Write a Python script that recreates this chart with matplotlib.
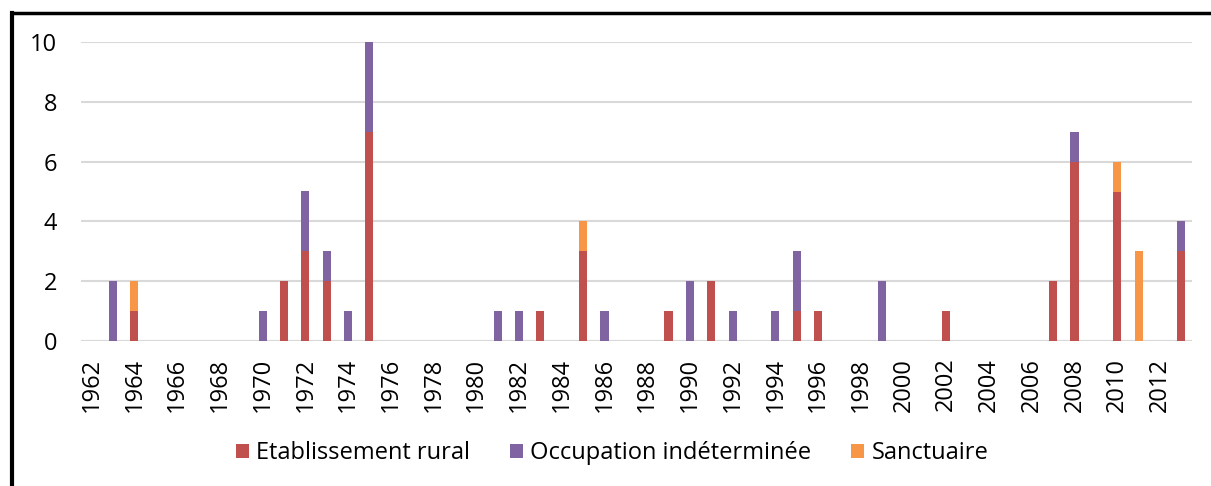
import numpy as np
import matplotlib.pyplot as plt
from matplotlib.lines import Line2D

years = list(range(1962, 2014))
rural = {1964: 1, 1971: 2, 1972: 3, 1973: 2, 1975: 7, 1983: 1, 1985: 3, 1989: 1,
         1991: 2, 1995: 1, 1996: 1, 2002: 1, 2007: 2, 2008: 6, 2010: 5, 2013: 3}
indet = {1963: 2, 1970: 1, 1972: 2, 1973: 1, 1974: 1, 1975: 3, 1981: 1, 1982: 1,
         1986: 1, 1990: 2, 1992: 1, 1994: 1, 1995: 2, 1999: 2, 2008: 1, 2013: 1}
sanct = {1964: 1, 1985: 1, 2010: 1, 2011: 3}

e = np.array([rural.get(y, 0) for y in years])
o = np.array([indet.get(y, 0) for y in years])
s = np.array([sanct.get(y, 0) for y in years])

plt.rcParams['font.family'] = ['Open Sans', 'DejaVu Sans']
fs = 17

fig = plt.figure(figsize=(12.11, 4.86), dpi=100)
ax = fig.add_axes([81/1211, 1-341/486, (1192-81)/1211, 299/486])
x = np.arange(len(years))
w = 0.38
ax.bar(x, e, w, color='#C0504D', label='Etablissement rural', zorder=3)
ax.bar(x, o, w, bottom=e, color='#8064A2', label='Occupation indéterminée', zorder=3)
ax.bar(x, s, w, bottom=e+o, color='#F79646', label='Sanctuaire', zorder=3)

ax.set_xlim(-0.5, len(years)-0.5)
ax.set_ylim(0, 10)
ax.set_yticks([0, 2, 4, 6, 8, 10])
ax.set_xticks(x[::2])
ax.set_xticklabels([str(y) for y in years[::2]], rotation=90, fontsize=fs)
ax.tick_params(axis='y', labelsize=fs, length=0, pad=17)
ax.tick_params(axis='x', length=0, pad=12)
ax.yaxis.grid(True, color='#D9D9D9', linewidth=1.5, zorder=0)
ax.set_axisbelow(True)
for sp in ax.spines.values():
    sp.set_visible(False)
ax.axhline(0, color='#D9D9D9', linewidth=1.5, zorder=1)

fig.legend(*ax.get_legend_handles_labels(), loc='center', bbox_to_anchor=(612/1211, 1-453/486),
           ncol=3, frameon=False, fontsize=fs, handlelength=0.55, handleheight=0.55,
           handletextpad=0.3, columnspacing=1.7)

# outer frame (left and top edges visible)
fig.add_artist(Line2D([12/1211, 12/1211], [0, 1-13/486], transform=fig.transFigure, color='black', linewidth=3))
fig.add_artist(Line2D([12/1211, 1], [1-13.5/486, 1-13.5/486], transform=fig.transFigure, color='black', linewidth=2.5))

fig.savefig('out.png', dpi=100)
